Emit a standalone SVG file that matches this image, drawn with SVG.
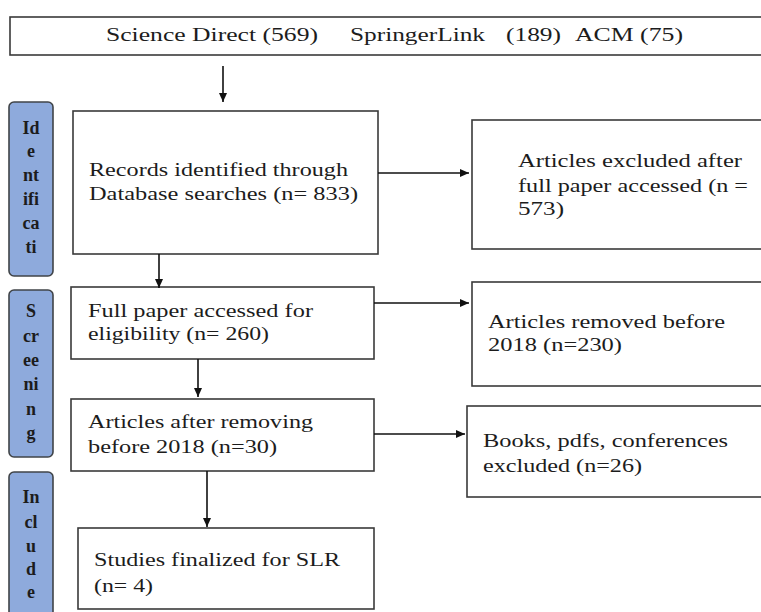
<svg xmlns="http://www.w3.org/2000/svg" width="761" height="612" viewBox="0 0 761 612">
<style>
.box{fill:#fff;stroke:#3a3a3a;stroke-width:1.6}
.side{fill:#8eaadc;stroke:#404448;stroke-width:1.6}
.t{font-family:'Liberation Serif','DejaVu Serif',serif;font-size:19px;fill:#1c1c1c}
.s{font-family:'Liberation Serif','DejaVu Serif',serif;font-size:18px;font-weight:bold;fill:#1c1c1c;text-anchor:middle}
.c{stroke:#111;stroke-width:1.6;fill:none;marker-end:url(#ah)}
</style>
<defs>
<marker id="ah" markerUnits="userSpaceOnUse" markerWidth="10" markerHeight="10" refX="9" refY="4" orient="auto">
<path d="M0,0 L9,4 L0,8 Z" fill="#111"/>
</marker>
</defs>
<g id="sources">
<rect class="box" x="10" y="17" width="760" height="38"/>
<text class="t" x="106" y="41" textLength="212" lengthAdjust="spacingAndGlyphs">Science Direct (569)</text>
<text class="t" x="350" y="41" textLength="135" lengthAdjust="spacingAndGlyphs">SpringerLink</text>
<text class="t" x="506" y="41" textLength="55" lengthAdjust="spacingAndGlyphs">(189)</text>
<text class="t" x="575" y="41" textLength="108" lengthAdjust="spacingAndGlyphs">ACM (75)</text>
</g>
<g id="label-identification">
<rect class="side" x="9" y="102" width="44" height="174" rx="5"/>
<text class="s" x="31" y="134">Id</text>
<text class="s" x="31" y="157">e</text>
<text class="s" x="31" y="181">nt</text>
<text class="s" x="31" y="205">ifi</text>
<text class="s" x="31" y="229">ca</text>
<text class="s" x="31" y="253">ti</text>
</g>
<g id="label-screening">
<rect class="side" x="9" y="290" width="44" height="167" rx="5"/>
<text class="s" x="31" y="317">S</text>
<text class="s" x="31" y="342">cr</text>
<text class="s" x="31" y="366">ee</text>
<text class="s" x="31" y="390">ni</text>
<text class="s" x="31" y="415">n</text>
<text class="s" x="31" y="439">g</text>
</g>
<g id="label-include">
<rect class="side" x="9" y="472" width="44" height="150" rx="5"/>
<text class="s" x="31" y="503">In</text>
<text class="s" x="31" y="528">cl</text>
<text class="s" x="31" y="552">u</text>
<text class="s" x="31" y="575">d</text>
<text class="s" x="31" y="598">e</text>
</g>
<g id="records">
<rect class="box" x="73" y="111" width="305" height="143"/>
<text class="t" x="89" y="176" textLength="259" lengthAdjust="spacingAndGlyphs">Records identified through</text>
<text class="t" x="89" y="200" textLength="269" lengthAdjust="spacingAndGlyphs">Database searches (n= 833)</text>
</g>
<g id="excluded">
<rect class="box" x="472" y="120" width="300" height="129"/>
<text class="t" x="518" y="167" textLength="224" lengthAdjust="spacingAndGlyphs">Articles  excluded after</text>
<text class="t" x="518" y="192" textLength="230" lengthAdjust="spacingAndGlyphs">full paper accessed (n =</text>
<text class="t" x="518" y="215" textLength="46" lengthAdjust="spacingAndGlyphs">573)</text>
</g>
<g id="fullpaper">
<rect class="box" x="71" y="287" width="303" height="72"/>
<text class="t" x="88" y="317" textLength="225" lengthAdjust="spacingAndGlyphs">Full paper accessed for</text>
<text class="t" x="88" y="340" textLength="181" lengthAdjust="spacingAndGlyphs">eligibility  (n= 260)</text>
</g>
<g id="removed">
<rect class="box" x="472" y="282" width="300" height="104"/>
<text class="t" x="488" y="328" textLength="237" lengthAdjust="spacingAndGlyphs">Articles  removed before</text>
<text class="t" x="488" y="351" textLength="134" lengthAdjust="spacingAndGlyphs">2018 (n=230)</text>
</g>
<g id="after">
<rect class="box" x="71" y="399" width="303" height="72"/>
<text class="t" x="88" y="428" textLength="225" lengthAdjust="spacingAndGlyphs">Articles  after removing</text>
<text class="t" x="88" y="453" textLength="189" lengthAdjust="spacingAndGlyphs">before 2018 (n=30)</text>
</g>
<g id="books">
<rect class="box" x="467" y="406" width="305" height="91"/>
<text class="t" x="483" y="447" textLength="245" lengthAdjust="spacingAndGlyphs">Books, pdfs, conferences</text>
<text class="t" x="483" y="472" textLength="159" lengthAdjust="spacingAndGlyphs">excluded (n=26)</text>
</g>
<g id="studies">
<rect class="box" x="78" y="528" width="296" height="81"/>
<text class="t" x="94" y="566" textLength="246" lengthAdjust="spacingAndGlyphs">Studies finalized for SLR</text>
<text class="t" x="94" y="592" textLength="59" lengthAdjust="spacingAndGlyphs">(n= 4)</text>
</g>
<g id="connectors">
<line class="c" x1="223" y1="66" x2="223" y2="102"/>
<line class="c" x1="159" y1="254" x2="159" y2="288"/>
<line class="c" x1="378" y1="173" x2="469" y2="173"/>
<line class="c" x1="374" y1="303" x2="469" y2="303"/>
<line class="c" x1="198" y1="359" x2="198" y2="397"/>
<line class="c" x1="374" y1="434" x2="465" y2="434"/>
<line class="c" x1="207" y1="471" x2="207" y2="527"/>
</g>
</svg>
